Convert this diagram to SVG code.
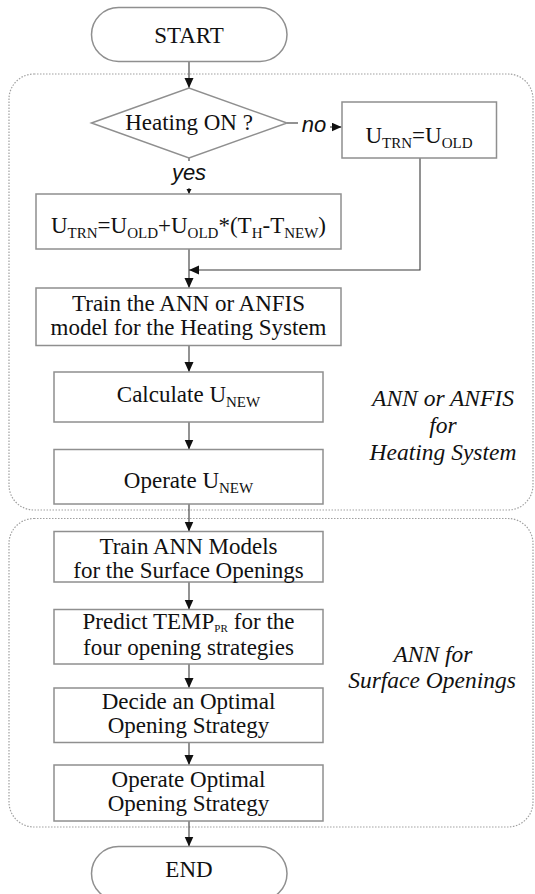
<svg xmlns="http://www.w3.org/2000/svg" width="535" height="894" viewBox="0 0 535 894">
  <style>
    .box { fill: #ffffff; stroke: #8f8f8f; stroke-width: 1.5; }
    .grp { fill: none; stroke: #a0a0a0; stroke-width: 1.2; stroke-dasharray: 1.5 1.5; }
    .ln { fill: none; stroke: #3a3a3a; stroke-width: 1.1; }
    .t { font-family: "Liberation Serif", "Times New Roman", serif; font-size: 23px; fill: #111; text-anchor: middle; }
    .it { font-style: italic; font-size: 23.5px; }
    .lab { font-family: "Liberation Sans", Arial, sans-serif; font-size: 22px; font-style: italic; fill: #111; text-anchor: middle; }
    .sub { font-size: 15px; }
  </style>
  <defs>
    <marker id="arr" markerUnits="userSpaceOnUse" markerWidth="10" markerHeight="10" refX="10" refY="4.5" orient="auto">
      <path d="M0,0 L10,4.5 L0,9 z" fill="#111"/>
    </marker>
    <marker id="arrSmall" markerUnits="userSpaceOnUse" markerWidth="6" markerHeight="6" refX="5" refY="2.5" orient="auto">
      <path d="M0,0 L5,2.5 L0,5 z" fill="#111"/>
    </marker>
  </defs>

  <!-- module groups -->
  <g id="group-heating">
    <rect class="grp" x="9" y="74" width="524" height="436" rx="25" ry="25"/>
    <text class="t it" x="443" y="406">ANN or ANFIS</text>
    <text class="t it" x="443" y="433">for</text>
    <text class="t it" x="443" y="460">Heating System</text>
  </g>
  <g id="group-openings">
    <rect class="grp" x="9" y="518.5" width="524" height="308.5" rx="25" ry="25"/>
    <text class="t it" x="433" y="662">ANN for</text>
    <text class="t it" x="432" y="688">Surface Openings</text>
  </g>

  <!-- connectors -->
  <g id="connectors">
    <line class="ln" x1="189" y1="62" x2="189" y2="88" marker-end="url(#arr)"/>
    <line class="ln" x1="287" y1="123" x2="298" y2="123"/>
    <line class="ln" x1="330" y1="127" x2="341.5" y2="127" marker-end="url(#arr)"/>
    <line class="ln" x1="189" y1="158" x2="189" y2="161"/>
    <line class="ln" x1="189" y1="188" x2="189" y2="194" marker-end="url(#arrSmall)"/>
    <polyline class="ln" points="420,158 420,270 189,270" marker-end="url(#arr)"/>
    <line class="ln" x1="189" y1="249" x2="189" y2="288" marker-end="url(#arr)"/>
    <line class="ln" x1="189" y1="345.5" x2="189" y2="372" marker-end="url(#arr)"/>
    <line class="ln" x1="189" y1="422" x2="189" y2="449.5" marker-end="url(#arr)"/>
    <line class="ln" x1="189" y1="504" x2="189" y2="531.5" marker-end="url(#arr)"/>
    <line class="ln" x1="189" y1="582" x2="189" y2="609.5" marker-end="url(#arr)"/>
    <line class="ln" x1="189" y1="664" x2="189" y2="688" marker-end="url(#arr)"/>
    <line class="ln" x1="189" y1="742.5" x2="189" y2="765" marker-end="url(#arr)"/>
    <line class="ln" x1="189" y1="821" x2="189" y2="846.5" marker-end="url(#arr)"/>
    <text class="lab" x="314" y="132">no</text>
    <text class="lab" x="189" y="180">yes</text>
  </g>

  <!-- nodes -->
  <g id="start">
    <rect class="box" x="91.5" y="7.5" width="195.5" height="54" rx="27" ry="27"/>
    <text class="t" x="189" y="42.5">START</text>
  </g>
  <g id="heating-on">
    <polygon class="box" points="91.5,123 189,88 287,123 189,158"/>
    <text class="t" x="189" y="130">Heating ON ?</text>
  </g>
  <g id="u-trn-old">
    <rect class="box" x="342" y="102" width="154.5" height="56"/>
    <text class="t" x="419" y="143">U<tspan class="sub" dy="5">TRN</tspan><tspan dy="-5">=U</tspan><tspan class="sub" dy="5">OLD</tspan></text>
  </g>
  <g id="u-trn-formula">
    <rect class="box" x="36" y="194" width="305" height="55"/>
    <text class="t" x="188.5" y="233">U<tspan class="sub" dy="5">TRN</tspan><tspan dy="-5">=U</tspan><tspan class="sub" dy="5">OLD</tspan><tspan dy="-5">+U</tspan><tspan class="sub" dy="5">OLD</tspan><tspan dy="-5">*(T</tspan><tspan class="sub" dy="5">H</tspan><tspan dy="-5">-T</tspan><tspan class="sub" dy="5">NEW</tspan><tspan dy="-5">)</tspan></text>
  </g>
  <g id="train-heating">
    <rect class="box" x="36" y="288" width="305" height="57.5"/>
    <text class="t" x="188.5" y="311">Train the ANN or ANFIS</text>
    <text class="t" x="188.5" y="335">model for the Heating System</text>
  </g>
  <g id="calculate">
    <rect class="box" x="54" y="372" width="269" height="50"/>
    <text class="t" x="188.5" y="402">Calculate U<tspan class="sub" dy="5">NEW</tspan></text>
  </g>
  <g id="operate-u">
    <rect class="box" x="54" y="449.5" width="269" height="54.5"/>
    <text class="t" x="188.5" y="488">Operate U<tspan class="sub" dy="5">NEW</tspan></text>
  </g>
  <g id="train-openings">
    <rect class="box" x="54" y="531.5" width="269" height="50.5"/>
    <text class="t" x="188.5" y="554">Train ANN Models</text>
    <text class="t" x="188.5" y="578">for the Surface Openings</text>
  </g>
  <g id="predict">
    <rect class="box" x="54" y="609.5" width="269" height="54.5"/>
    <text class="t" x="188.5" y="629">Predict TEMP<tspan font-size="11" dy="3">PR</tspan><tspan dx="6" dy="-3">for the</tspan></text>
    <text class="t" x="188.5" y="655">four opening strategies</text>
  </g>
  <g id="decide">
    <rect class="box" x="54" y="688" width="269" height="54.5"/>
    <text class="t" x="188.5" y="709">Decide an Optimal</text>
    <text class="t" x="188.5" y="733">Opening Strategy</text>
  </g>
  <g id="operate-strategy">
    <rect class="box" x="54" y="765" width="269" height="56"/>
    <text class="t" x="188.5" y="787">Operate Optimal</text>
    <text class="t" x="188.5" y="811">Opening Strategy</text>
  </g>
  <g id="end">
    <rect class="box" x="91.5" y="846.5" width="195.5" height="54" rx="27" ry="27"/>
    <text class="t" x="189" y="877">END</text>
  </g>
</svg>
